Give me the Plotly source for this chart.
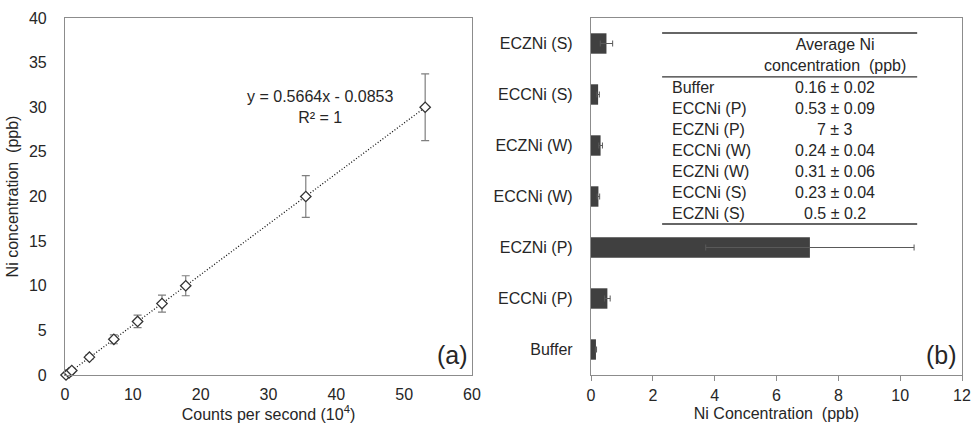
import plotly.graph_objects as go

# ---------------- Data: panel (a) calibration ----------------
counts = [0.15, 0.6, 1.0, 3.6, 7.2, 10.7, 14.3, 17.8, 35.5, 53.1]      # counts per second (10^4)
ni_ppb = [0, 0.25, 0.5, 2, 4, 6, 8, 10, 20, 30]                         # Ni concentration (ppb)
ni_err = [0, 0.03, 0.06, 0.25, 0.5, 0.7, 0.95, 1.12, 2.35, 3.73]
fit_slope = 0.5664
fit_intercept = -0.0853
fit_label = "y = 0.5664x - 0.0853<br>R² = 1"

# ---------------- Data: panel (b) bars ----------------
samples = ["Buffer", "ECCNi (P)", "ECZNi (P)", "ECCNi (W)", "ECZNi (W)", "ECCNi (S)", "ECZNi (S)"]
conc = [0.16, 0.53, 7.08, 0.24, 0.31, 0.23, 0.50]
conc_err = [0.02, 0.09, 3.37, 0.04, 0.06, 0.04, 0.20]

# ---------------- Data: inset table ----------------
table_header = "Average Ni<br>concentration  (ppb)"
table_labels = ["Buffer", "ECCNi (P)", "ECZNi (P)", "ECCNi (W)", "ECZNi (W)", "ECCNi (S)", "ECZNi (S)"]
table_values = ["0.16 ± 0.02", "0.53 ± 0.09", "7 ± 3", "0.24 ± 0.04", "0.31 ± 0.06", "0.23 ± 0.04", "0.5 ± 0.2"]

FONT = "Arial, 'Liberation Sans', sans-serif"
TXT = "#262626"
AX = "#8c8c8c"
FS = 16

fig = go.Figure()

# trendline
fit_x = [0, max(counts)]
fit_y = [fit_slope * v + fit_intercept for v in fit_x]
fig.add_trace(go.Scatter(x=fit_x, y=fit_y, mode="lines",
                         line=dict(color="#111111", width=1.3, dash="1px,2px"),
                         xaxis="x", yaxis="y", showlegend=False, hoverinfo="skip"))
# points with error bars
fig.add_trace(go.Scatter(x=counts, y=ni_ppb, mode="markers", cliponaxis=False,
                         marker=dict(symbol="diamond", size=8, color="white",
                                     line=dict(color="#333333", width=1.3)),
                         error_y=dict(type="data", array=ni_err, color="#7f7f7f", thickness=1.2, width=4),
                         xaxis="x", yaxis="y", showlegend=False))

# bars
fig.add_trace(go.Bar(y=samples, x=conc, orientation="h",
                     marker=dict(color="#404040", line=dict(width=0)),
                     width=0.4,
                     error_x=dict(type="data", array=conc_err, color="#595959", thickness=1, width=3),
                     xaxis="x2", yaxis="y2", showlegend=False))

axis_common = dict(showline=True, linecolor=AX, linewidth=1.2, mirror=True,
                   showgrid=False, zeroline=False, automargin=False,
                   tickfont=dict(family=FONT, size=FS, color=TXT))

fig.update_layout(
    width=974, height=424,
    margin=dict(l=65, r=12, t=18, b=49),
    paper_bgcolor="white", plot_bgcolor="white",
    font=dict(family=FONT, color=TXT),
    xaxis=dict(domain=[0, 0.4537], range=[0, 60], dtick=10, ticks="",
               ticklabelstandoff=5,
               title=dict(text="Counts per second (10<sup>4</sup>)", font=dict(family=FONT, size=FS, color=TXT), standoff=4),
               **axis_common),
    yaxis=dict(domain=[0, 1], range=[0, 40], dtick=5, ticks="",
               ticklabelstandoff=14,
               title=dict(text="Ni concentration  (ppb)", font=dict(family=FONT, size=FS, color=TXT), standoff=6),
               **axis_common),
    xaxis2=dict(domain=[0.5864, 1], range=[0, 12], dtick=2, anchor="y2",
                ticks="outside", ticklen=5, tickcolor=AX,
                ticklabelstandoff=1,
                title=dict(text="Ni Concentration  (ppb)", font=dict(family=FONT, size=FS, color=TXT), standoff=4),
                **axis_common),
    yaxis2=dict(domain=[0, 1], anchor="x2", ticks="",
                categoryorder="array", categoryarray=samples,
                ticklabelstandoff=14,
                **axis_common),
)

annotations = [
    dict(text=fit_label, x=37.6, y=30.0, xref="x", yref="y", showarrow=False,
         font=dict(family=FONT, size=FS, color=TXT), align="center", yanchor="middle"),
    dict(text="(a)", x=0.995, y=0.01, xref="x domain", yref="y domain", showarrow=False,
         xanchor="right", yanchor="bottom", font=dict(family=FONT, size=25, color=TXT)),
    dict(text="(b)", x=0.993, y=0.01, xref="x2 domain", yref="y2 domain", showarrow=False,
         xanchor="right", yanchor="bottom", font=dict(family=FONT, size=25, color=TXT)),
    dict(text=table_header, x=7.9, y=0.896, xref="x2", yref="y2 domain", showarrow=False,
         font=dict(family=FONT, size=FS, color=TXT), align="center", yanchor="middle"),
]
row_top = 0.804
row_step = 21 / 357
for i, (lab, val) in enumerate(zip(table_labels, table_values)):
    yy = row_top - i * row_step
    annotations.append(dict(text=lab, x=2.55, y=yy, xref="x2", yref="y2 domain", showarrow=False,
                            xanchor="left", yanchor="middle", font=dict(family=FONT, size=FS, color=TXT)))
    annotations.append(dict(text=val, x=7.9, y=yy, xref="x2", yref="y2 domain", showarrow=False,
                            xanchor="center", yanchor="middle", font=dict(family=FONT, size=FS, color=TXT)))
fig.update_layout(annotations=annotations)

shapes = []
for yy in [0.958, 0.835, 0.423]:
    shapes.append(dict(type="line", xref="x2", yref="y2 domain", x0=2.3, x1=10.55, y0=yy, y1=yy,
                       line=dict(color="#333333", width=1.3)))
fig.update_layout(shapes=shapes)

fig.write_html("out.html")
